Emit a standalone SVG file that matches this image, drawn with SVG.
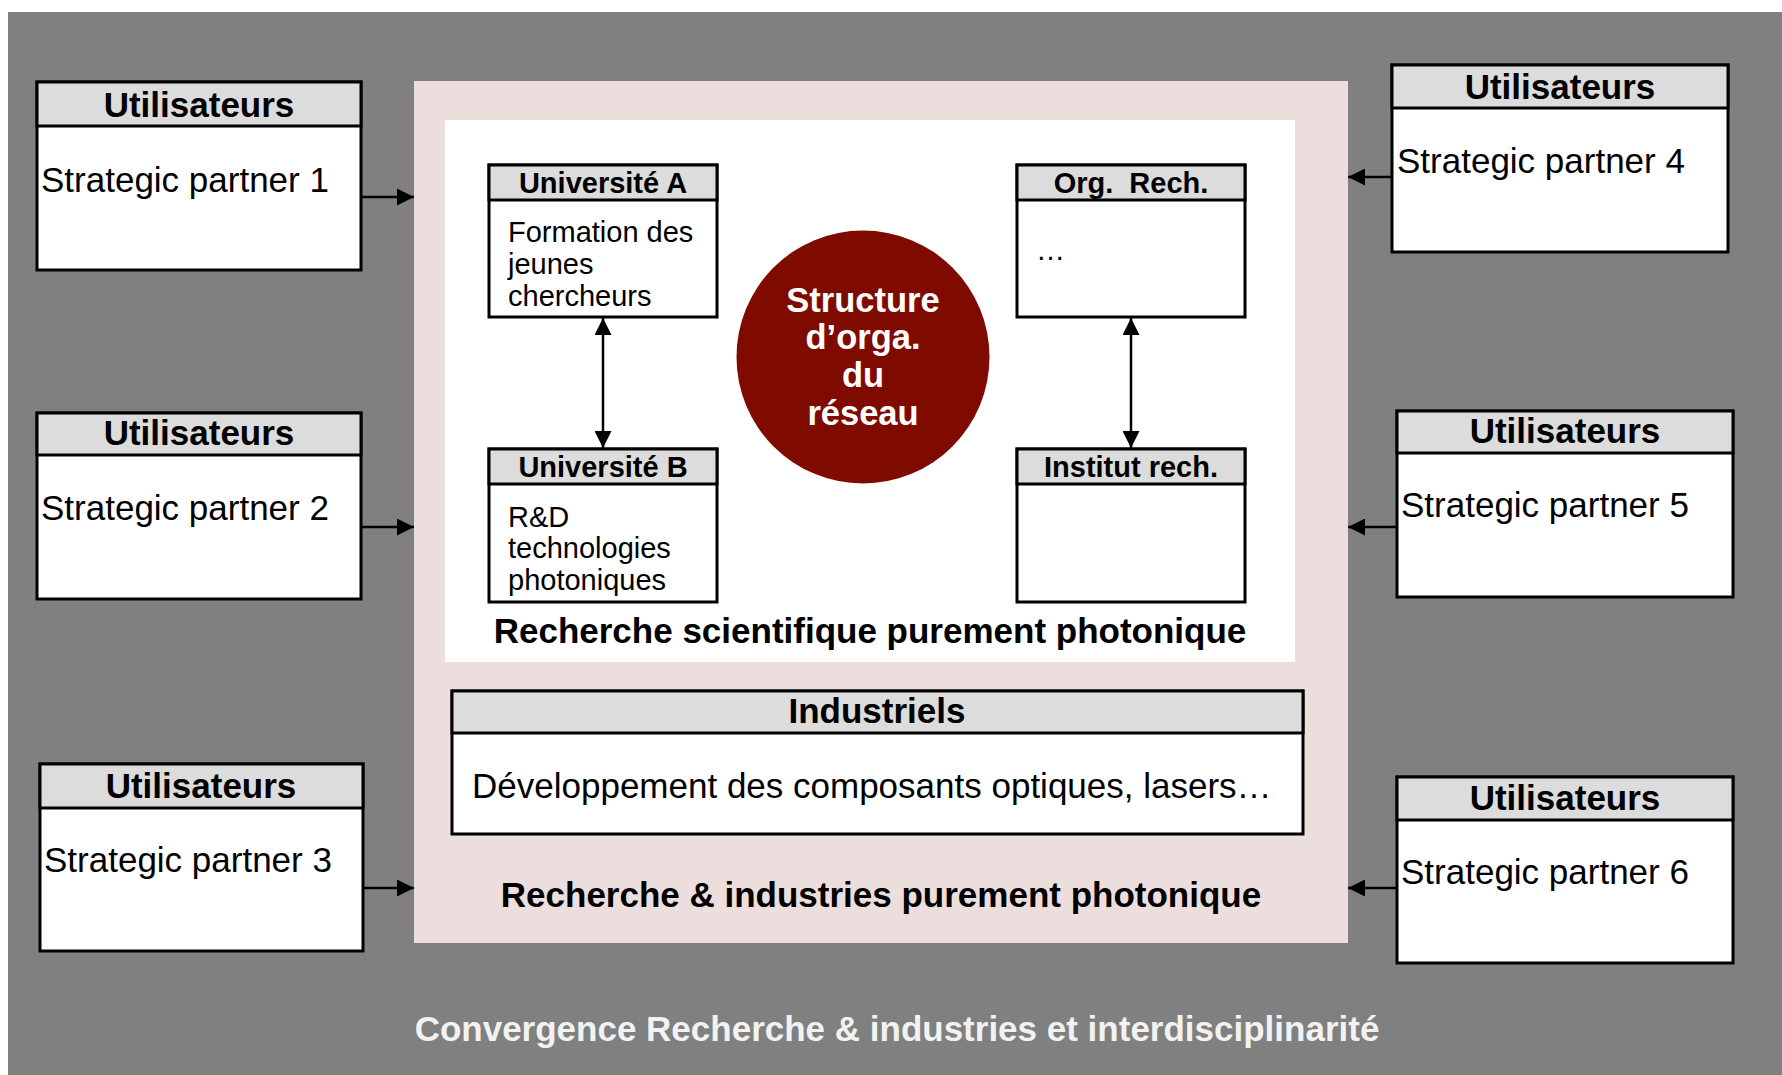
<svg xmlns="http://www.w3.org/2000/svg" width="1782" height="1075" viewBox="0 0 1782 1075">
<defs>
<style>
.box{fill:#FFFFFF;stroke:#000;stroke-width:3}
.hdr{fill:#DCDCDC;stroke:#000;stroke-width:3}
.t{font-family:"Liberation Sans",Arial,sans-serif;fill:#000}
.ut{font-size:35px;font-weight:bold;text-anchor:middle}
.sp{font-size:35px}
.st{font-size:29px;font-weight:bold;text-anchor:middle}
.sb{font-size:29px}
.cw{font-size:34.5px;font-weight:bold;fill:#FFFFFF;text-anchor:middle}
.big{font-size:35px;font-weight:bold;text-anchor:middle}
.conn{stroke:#000;stroke-width:2.5;fill:none}
</style>
<marker id="ah" viewBox="0 0 17 17" refX="17" refY="8.5" markerWidth="17" markerHeight="17" markerUnits="userSpaceOnUse" orient="auto-start-reverse">
<path d="M0,0 L17,8.5 L0,17 Z" fill="#000"/>
</marker>
</defs>
<rect x="0" y="0" width="1782" height="1075" fill="#FFFFFF"/>
<rect x="8" y="12" width="1774" height="1063" fill="#808080"/>
<g id="outer-zone">
<rect x="414" y="81" width="934" height="862" fill="#EDDEDE"/>
<text class="t big" x="881" y="907">Recherche &amp; industries purement photonique</text>
</g>
<g id="inner-zone">
<rect x="445" y="120" width="850" height="542" fill="#FFFFFF"/>
<text class="t big" x="870" y="643">Recherche scientifique purement photonique</text>
</g>
<g id="universite-a">
<rect class="box" x="489" y="165" width="228" height="152"/>
<rect class="hdr" x="489" y="165" width="228" height="35"/>
<text class="t st" x="603" y="193">Université A</text>
<text class="t sb" x="508" y="242">Formation des</text>
<text class="t sb" x="508" y="274">jeunes</text>
<text class="t sb" x="508" y="306">chercheurs</text>
</g>
<g id="universite-b">
<rect class="box" x="489" y="449" width="228" height="153"/>
<rect class="hdr" x="489" y="449" width="228" height="35"/>
<text class="t st" x="603" y="477">Université B</text>
<text class="t sb" x="508" y="527">R&amp;D</text>
<text class="t sb" x="508" y="558">technologies</text>
<text class="t sb" x="508" y="590">photoniques</text>
</g>
<g id="org-rech">
<rect class="box" x="1017" y="165" width="228" height="152"/>
<rect class="hdr" x="1017" y="165" width="228" height="35"/>
<text class="t st" x="1131" y="193" xml:space="preserve">Org.  Rech.</text>
<text class="t sb" x="1036" y="260">…</text>
</g>
<g id="institut-rech">
<rect class="box" x="1017" y="449" width="228" height="153"/>
<rect class="hdr" x="1017" y="449" width="228" height="35"/>
<text class="t st" x="1131" y="477">Institut rech.</text>
</g>
<g id="structure">
<circle cx="863" cy="357" r="126.5" fill="#7F0A00"/>
<text class="t cw" x="863" y="312">Structure</text>
<text class="t cw" x="863" y="349">d’orga.</text>
<text class="t cw" x="863" y="387">du</text>
<text class="t cw" x="863" y="425">réseau</text>
</g>
<g id="industriels">
<rect class="box" x="452" y="691" width="851" height="143"/>
<rect class="hdr" x="452" y="691" width="851" height="42"/>
<text class="t big" x="877" y="723">Industriels</text>
<text class="t" x="472" y="798" font-size="35">Développement des composants optiques, lasers…</text>
</g>
<g id="partner-1">
<rect class="box" x="37" y="82" width="324" height="188"/>
<rect class="hdr" x="37" y="82" width="324" height="44"/>
<text class="t ut" x="199" y="117">Utilisateurs</text>
<text class="t sp" x="41" y="192">Strategic partner 1</text>
</g>
<g id="partner-2">
<rect class="box" x="37" y="413" width="324" height="186"/>
<rect class="hdr" x="37" y="413" width="324" height="42"/>
<text class="t ut" x="199" y="445">Utilisateurs</text>
<text class="t sp" x="41" y="520">Strategic partner 2</text>
</g>
<g id="partner-3">
<rect class="box" x="40" y="764" width="323" height="187"/>
<rect class="hdr" x="40" y="764" width="323" height="44"/>
<text class="t ut" x="201" y="798">Utilisateurs</text>
<text class="t sp" x="44" y="872">Strategic partner 3</text>
</g>
<g id="partner-4">
<rect class="box" x="1392" y="65" width="336" height="187"/>
<rect class="hdr" x="1392" y="65" width="336" height="43"/>
<text class="t ut" x="1560" y="99">Utilisateurs</text>
<text class="t sp" x="1397" y="173">Strategic partner 4</text>
</g>
<g id="partner-5">
<rect class="box" x="1397" y="411" width="336" height="186"/>
<rect class="hdr" x="1397" y="411" width="336" height="42"/>
<text class="t ut" x="1565" y="443">Utilisateurs</text>
<text class="t sp" x="1401" y="517">Strategic partner 5</text>
</g>
<g id="partner-6">
<rect class="box" x="1397" y="777" width="336" height="186"/>
<rect class="hdr" x="1397" y="777" width="336" height="43"/>
<text class="t ut" x="1565" y="810">Utilisateurs</text>
<text class="t sp" x="1401" y="884">Strategic partner 6</text>
</g>
<g id="connectors">
<line class="conn" x1="361" y1="197" x2="414" y2="197" marker-end="url(#ah)"/>
<line class="conn" x1="361" y1="527" x2="414" y2="527" marker-end="url(#ah)"/>
<line class="conn" x1="363" y1="888" x2="414" y2="888" marker-end="url(#ah)"/>
<line class="conn" x1="1392" y1="177" x2="1348" y2="177" marker-end="url(#ah)"/>
<line class="conn" x1="1397" y1="527" x2="1348" y2="527" marker-end="url(#ah)"/>
<line class="conn" x1="1397" y1="888" x2="1348" y2="888" marker-end="url(#ah)"/>
<line class="conn" x1="603" y1="318" x2="603" y2="448" marker-start="url(#ah)" marker-end="url(#ah)"/>
<line class="conn" x1="1131" y1="318" x2="1131" y2="448" marker-start="url(#ah)" marker-end="url(#ah)"/>
</g>
<text class="t big" x="897" y="1041" style="fill:#F2F2F2">Convergence Recherche &amp; industries et interdisciplinarité</text>
</svg>
